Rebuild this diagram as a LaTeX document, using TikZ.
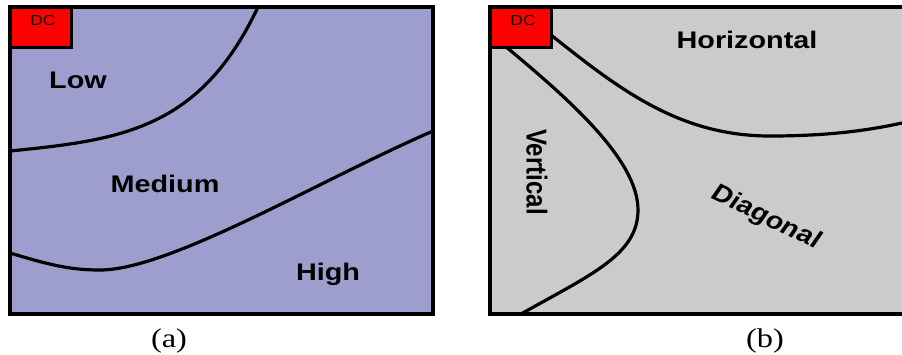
\documentclass[tikz,border=0pt]{standalone}
\usepackage{fontspec}
\setmainfont{Liberation Serif}
\newfontfamily\lsans{Liberation Sans}
\definecolor{lav}{RGB}{158,158,206}
\definecolor{lgray}{RGB}{203,203,203}
\definecolor{dcred}{RGB}{255,0,0}
\begin{document}
\begin{tikzpicture}[x=1pt,y=-1pt,
  frame/.style={line width=4pt},
  curve/.style={line width=3.2pt},
  dcbox/.style={fill=dcred,draw=black,line width=3pt},
  lbl/.style={font=\lsans\bfseries\fontsize{24}{28}\selectfont,anchor=base,xscale=1.2,inner sep=0pt},
  dclbl/.style={font=\lsans\fontsize{14.5}{16}\selectfont,anchor=base,xscale=1.2,inner sep=0pt},
  captxt/.style={font=\fontsize{27}{30}\selectfont,anchor=base,xscale=1.2,inner sep=0pt}]
\useasboundingbox (0,0) rectangle (902,354);
% panel (a)
\fill[lav] (10,7) rectangle (433,314);
\draw[curve] (10,151) .. controls (120,140) and (200,130) .. (258,7);
\draw[curve] (10,253) .. controls (50,265) and (70,270) .. (100,270)
  .. controls (170,270) and (320,180) .. (433,131);
\draw[frame] (10,7) rectangle (433,314);
\draw[dcbox] (10,7) rectangle (71,47);
\node[dclbl] (dca) at (43,25) {DC};
\node[lbl] (low) at (78,88) {Low};
\node[lbl] (med) at (165,192) {Medium};
\node[lbl] (high) at (328,280) {High};
% panel (b)
\fill[lgray] (490,7) rectangle (902,314);
\draw[curve] (551,35) .. controls (620,90) and (680,136) .. (770,136)
  .. controls (830,136) and (870,130) .. (902,123);
\draw[curve] (505,46) .. controls (570,100) and (638,160) .. (638,210)
  .. controls (638,255) and (590,275) .. (521,314);
\draw[frame] (902,7) -- (490,7) -- (490,314) -- (902,314);
\draw[dcbox] (490,7) rectangle (551,47);
\node[dclbl] (dcb) at (523,25) {DC};
\node[lbl] (hor) at (747,48) {Horizontal};
\node[lbl,anchor=center,rotate=-90] (ver) at (537,172) {Vertical};
\node[lbl,anchor=center,rotate=-30] (dia) at (766,218) {Diagonal};
% captions
\node[captxt] (ca) at (169,347) {(a)};
\node[captxt] (cb) at (765,347) {(b)};
\end{tikzpicture}
\end{document}
